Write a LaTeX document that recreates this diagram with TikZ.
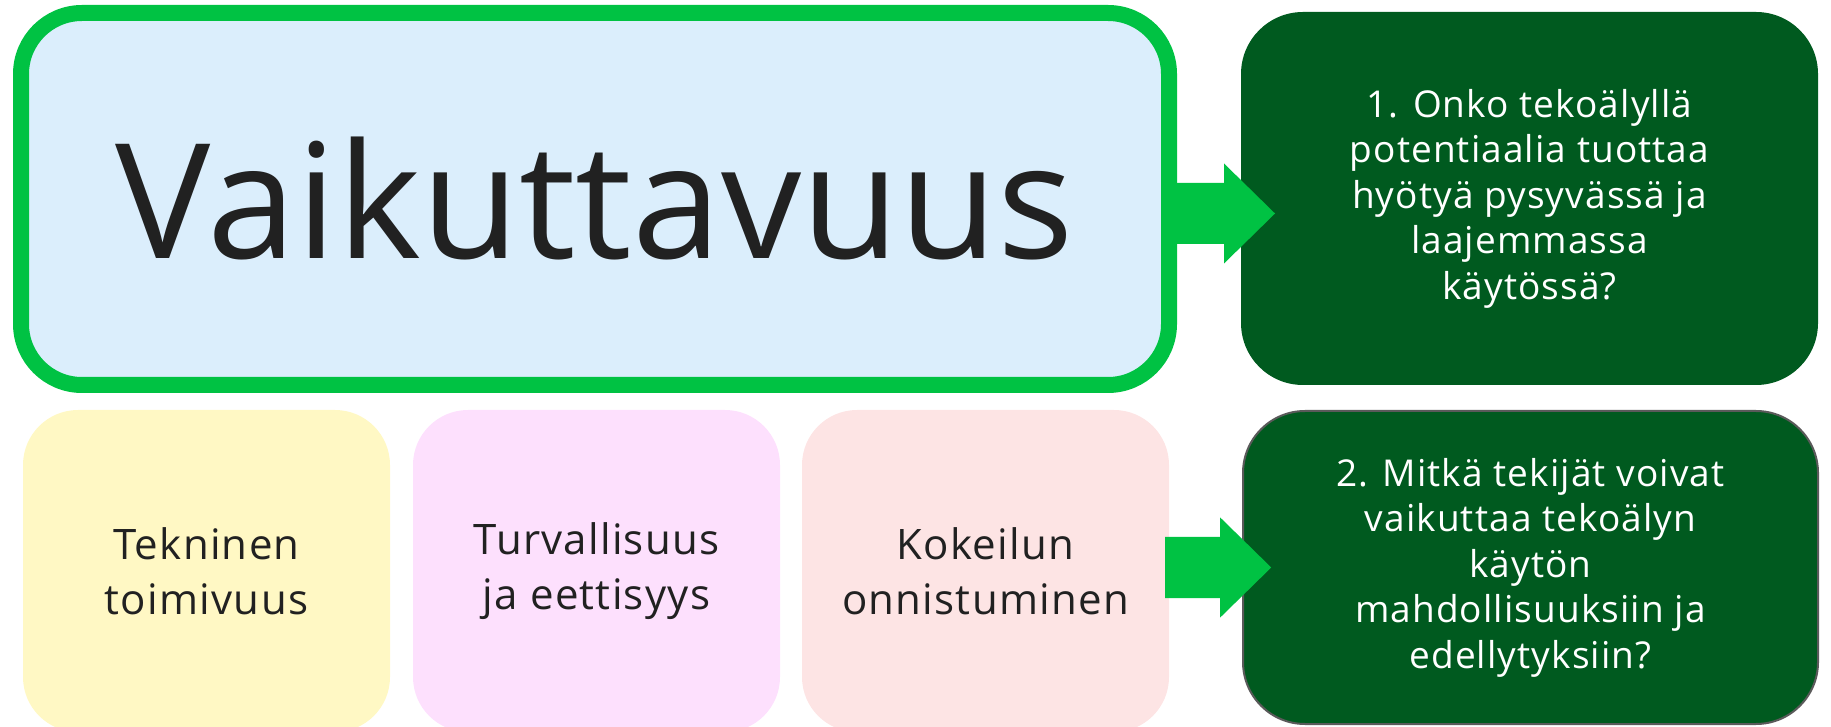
\documentclass[tikz,border=0pt]{standalone}
\usepackage{fontspec}
\setmainfont{Open Sans}
\usepackage{tikz}
\usetikzlibrary{positioning}
\definecolor{vihrea}{HTML}{00C243}
\definecolor{tummavihrea}{HTML}{005A1F}
\definecolor{vaaleansininen}{HTML}{DBEEFC}
\definecolor{keltainen}{HTML}{FFF8C4}
\definecolor{roosa}{HTML}{FDE0FD}
\definecolor{lohi}{HTML}{FDE4E4}
\definecolor{teksti}{HTML}{212121}
\definecolor{reuna}{HTML}{5A5A5A}

\begin{document}
\begin{tikzpicture}[x=1pt, y=1pt]
                % koko kuva, pikseleinä
                \useasboundingbox (0,0) rectangle (1831,726);
                \tikzstyle{every node}=[inner sep=0pt, align=center]
                \tikzstyle{kysymys}=[fill=tummavihrea, text=white, rounded corners=62pt,
                        font=\fontsize{37}{45.5}\selectfont\addfontfeatures{LetterSpace=3}]
                \tikzstyle{osa}=[minimum width=367pt, minimum height=322pt, rounded corners=55pt,
                        text=teksti, font=\fontsize{42}{55}\selectfont\addfontfeatures{LetterSpace=3}]

                \node[draw=vihrea, line width=16pt, fill=vaaleansininen, rounded corners=61pt,
                        minimum width=1148pt, minimum height=372pt, text=teksti,
                        font=\fontsize{160}{160}\selectfont] (vaik) at (595,527) {Vaikuttavuus};

                \node[kysymys, minimum width=577pt, minimum height=373pt] (k1) at (1529.5,527.5)
                        {1. Onko tekoälyllä\\potentiaalia tuottaa\\hyötyä pysyvässä ja\\laajemmassa\\käytössä?};
                \node[kysymys, draw=reuna, line width=2pt, minimum width=575pt, minimum height=313pt]
                        (k2) at (1530.5,158.5)
                        {2. Mitkä tekijät voivat\\vaikuttaa tekoälyn\\käytön\\mahdollisuuksiin ja\\edellytyksiin?};

                \node[osa, fill=keltainen] (tekn) at (206.5,155) {Tekninen\\toimivuus};
                \node[osa, fill=roosa] (turv) at (596.5,155) {Turvallisuus\\ja eettisyys};
                \node[osa, fill=lohi] (kok) at (985.5,155) {Kokeilun\\onnistuminen};

                % nuolet
                \fill[vihrea] ([yshift=-14.5pt]vaik.east) -- ++(0,30.5) -- ++(47,0) -- ++(0,19.5)
                        -- ++(51,-50) -- ++(-51,-50) -- ++(0,19.5) -- ++(-47,0) -- cycle;
                \fill[vihrea] (kok.east |- k2.west) ++(-4,0) -- ++(0,30.5) -- ++(55,0) -- ++(0,19.5)
                        -- ++(51,-50) -- ++(-51,-50) -- ++(0,19.5) -- ++(-55,0) -- cycle;
\end{tikzpicture}
\end{document}
